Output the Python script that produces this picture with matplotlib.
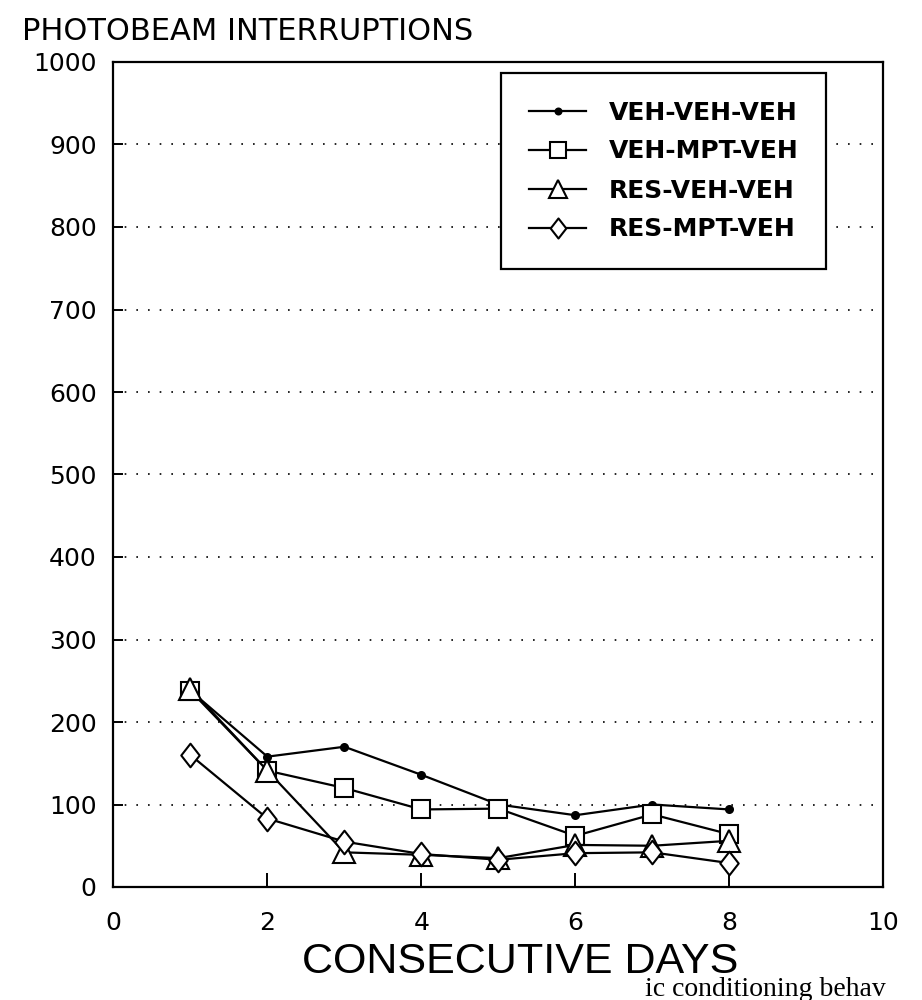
import matplotlib
matplotlib.use("Agg")
import matplotlib.pyplot as plt
from matplotlib.path import Path

# data
days = [1, 2, 3, 4, 5, 6, 7, 8]
veh_veh_veh = [238, 158, 170, 136, 100, 87, 100, 94]
veh_mpt_veh = [238, 141, 120, 94, 95, 62, 88, 64]
res_veh_veh = [240, 141, 42, 39, 35, 51, 50, 56]
res_mpt_veh = [160, 83, 55, 40, 33, 41, 42, 29]

series_labels = ["VEH-VEH-VEH", "VEH-MPT-VEH", "RES-VEH-VEH", "RES-MPT-VEH"]
x_ticks = [0, 2, 4, 6, 8, 10]
y_ticks = list(range(0, 1001, 100))

# slightly tall diamond, like the one in the scan
diamond = Path([(0, 1), (0.78, 0), (0, -1), (-0.78, 0), (0, 1)],
               [Path.MOVETO, Path.LINETO, Path.LINETO, Path.LINETO, Path.CLOSEPOLY])

fig = plt.figure(figsize=(9.22, 10), dpi=100)
ax = fig.add_axes([0.123, 0.113, 0.835, 0.825])

line_kw = dict(color="black", linewidth=1.6, markeredgecolor="black",
               markeredgewidth=1.5)
ax.plot(days, veh_veh_veh, marker="o", markersize=5, markerfacecolor="black",
        label=series_labels[0], **line_kw)
ax.plot(days, veh_mpt_veh, marker="s", markersize=13, markerfacecolor="white",
        label=series_labels[1], **line_kw)
ax.plot(days, res_veh_veh, marker="^", markersize=16, markerfacecolor="white",
        label=series_labels[2], **line_kw)
ax.plot(days, res_mpt_veh, marker=diamond, markersize=17, markerfacecolor="white",
        label=series_labels[3], **line_kw)

ax.set_xlim(0, 10)
ax.set_ylim(0, 1000)
ax.set_xticks(x_ticks)
ax.set_yticks(y_ticks)

# dotted horizontal grid, no line on the top border
for v in y_ticks[1:-1]:
    ax.axhline(v, color="black", linewidth=1.2, linestyle=(0, (1, 6)), zorder=0)

for s in ax.spines.values():
    s.set_linewidth(1.6)
ax.tick_params(axis="both", direction="in", width=1.4, labelsize=18)
ax.tick_params(axis="x", length=10, pad=17)
ax.tick_params(axis="y", length=7, pad=12)
for lab in ax.get_xticklabels() + ax.get_yticklabels():
    lab.set_family("DejaVu Sans")

leg = ax.legend(loc="upper right", bbox_to_anchor=(0.896, 0.927),
                bbox_transform=fig.transFigure, borderaxespad=0,
                fancybox=False, framealpha=1, edgecolor="black",
                prop={"family": "DejaVu Sans", "weight": "bold", "size": 18},
                handlelength=2.3, handletextpad=0.9, borderpad=1.1,
                labelspacing=0.6)
leg.get_frame().set_linewidth(1.6)
for h in leg.legend_handles:
    h.set_markersize(h.get_markersize() * 0.85)

fig.text(0.024, 0.968, "PHOTOBEAM INTERRUPTIONS", fontsize=22,
         family="DejaVu Sans", ha="left", va="center")
fig.text(0.564, 0.038, "CONSECUTIVE DAYS", fontsize=31,
         family="Liberation Sans", ha="center", va="center")
# caption of the page, cut by the scan edge in the original
fig.text(0.70, 0.011, "ic conditioning behav", fontsize=20,
         family="Liberation Serif", ha="left", va="center")

fig.savefig("out.png", dpi=100)
plt.close(fig)
